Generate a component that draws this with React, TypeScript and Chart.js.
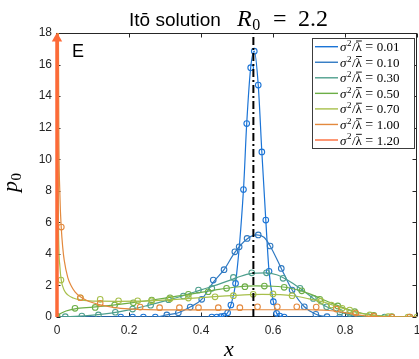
import React, { useEffect, useRef } from 'react';
import { Chart, registerables } from 'chart.js';
Chart.register(...registerables);

// ---- labels / categories ----
const sigmaLabels = ['0.01', '0.10', '0.30', '0.50', '0.70', '1.00', '1.20'];
const xTickStep = 0.2;
const yTickStep = 2;
const xMin = 0, xMax = 1, yMin = 0, yMax = 18;

// ---- sigma^2/lambda = 0.01 ----
const line001X = [0, 0.40, 0.43, 0.45, 0.464, 0.474, 0.483, 0.496, 0.518, 0.527, 0.538, 0.548, 0.559, 0.569, 0.58, 0.589, 0.601, 0.61, 0.619, 0.631, 0.66, 1];
const line001Y = [0, 0, 0, 0.02, 0.05, 0.27, 0.76, 2.13, 8.08, 12.26, 15.8, 16.85, 14.7, 10.46, 6.14, 2.9, 0.97, 0.23, 0.06, 0, 0, 0];
const mark001X = [0.177, 0.21, 0.24, 0.273, 0.43, 0.444, 0.455, 0.464, 0.474, 0.483, 0.496, 0.518, 0.527, 0.538, 0.548, 0.559, 0.569, 0.58, 0.589, 0.601, 0.61, 0.619, 0.631];
const mark001Y = [0, 0, 0, 0, 0, 0, 0.02, 0.05, 0.27, 0.76, 2.13, 8.08, 12.26, 15.8, 16.85, 14.7, 10.46, 6.14, 2.9, 0.97, 0.23, 0.06, 0];

// ---- 0.10 ----
const line010X = [0, 0.27, 0.305, 0.337, 0.37, 0.402, 0.434, 0.464, 0.494, 0.528, 0.555, 0.575, 0.592, 0.623, 0.653, 0.687, 0.719, 0.75, 0.79, 1];
const line010Y = [0, 0, 0.13, 0.27, 0.63, 1.12, 2.2, 3.0, 4.1, 4.95, 5.2, 5.05, 4.5, 3.08, 1.71, 0.65, 0.17, 0.02, 0, 0];
const mark010X = [0.305, 0.337, 0.37, 0.402, 0.434, 0.464, 0.494, 0.506, 0.528, 0.559, 0.592, 0.623, 0.653, 0.687, 0.719, 0.75, 0.785];
const mark010Y = [0.13, 0.27, 0.63, 1.12, 2.34, 3.0, 4.13, 4.45, 4.98, 5.2, 4.5, 3.08, 1.71, 0.65, 0.17, 0.02, 0];

// ---- 0.30 ----
const line030X = [0, 0.05, 0.1, 0.15, 0.2, 0.25, 0.3, 0.35, 0.4, 0.45, 0.5, 0.54, 0.58, 0.61, 0.64, 0.675, 0.712, 0.749, 0.786, 0.82, 0.86, 0.9, 1];
const line030Y = [0, 0.04, 0.12, 0.25, 0.45, 0.72, 1.02, 1.35, 1.72, 2.08, 2.5, 2.76, 2.8, 2.68, 2.35, 1.82, 1.18, 0.65, 0.3, 0.12, 0.03, 0, 0];
const mark030X = [0.023, 0.069, 0.115, 0.162, 0.21, 0.26, 0.31, 0.351, 0.393, 0.43, 0.49, 0.541, 0.582, 0.628, 0.675, 0.712, 0.749, 0.786, 0.813, 0.864, 0.91];
const mark030Y = [0.02, 0.06, 0.13, 0.3, 0.5, 0.75, 1.1, 1.33, 1.71, 1.82, 2.51, 2.8, 2.8, 2.45, 1.82, 1.18, 0.65, 0.3, 0.23, 0.02, 0];

// ---- 0.50 ----
const line050X = [0, 0.01, 0.025, 0.05, 0.1, 0.15, 0.2, 0.25, 0.3, 0.35, 0.4, 0.45, 0.5, 0.55, 0.6, 0.65, 0.7, 0.75, 0.8, 0.85, 0.9, 0.95, 1];
const line050Y = [0.05, 0.22, 0.38, 0.52, 0.62, 0.74, 0.88, 1.03, 1.2, 1.38, 1.56, 1.75, 1.9, 1.97, 1.95, 1.82, 1.48, 1.0, 0.55, 0.22, 0.07, 0.01, 0];
const mark050X = [0, 0.05, 0.106, 0.16, 0.212, 0.263, 0.314, 0.365, 0.42, 0.471, 0.522, 0.576, 0.631, 0.68, 0.73, 0.78, 0.827, 0.88, 0.93, 0.98];
const mark050Y = [0.06, 0.55, 0.61, 0.76, 0.9, 1.07, 1.22, 1.44, 1.6, 1.82, 1.92, 1.96, 1.88, 1.66, 1.12, 0.7, 0.34, 0.1, 0.02, 0];

// ---- 0.70 ----
const line070X = [0.001, 0.004, 0.008, 0.012, 0.02, 0.03, 0.045, 0.065, 0.09, 0.12, 0.17, 0.22, 0.27, 0.32, 0.37, 0.42, 0.47, 0.52, 0.57, 0.62, 0.66, 0.7, 0.735, 0.765, 0.795, 0.83, 0.87, 0.91, 0.95, 1];
const line070Y = [20, 6, 3.2, 2.3, 1.7, 1.4, 1.2, 1.08, 1.02, 1.0, 0.99, 1.0, 1.04, 1.1, 1.18, 1.26, 1.34, 1.4, 1.43, 1.42, 1.33, 1.15, 0.98, 0.76, 0.55, 0.3, 0.12, 0.03, 0.01, 0];
const mark070X = [0.011, 0.065, 0.12, 0.171, 0.224, 0.263, 0.314, 0.365, 0.439, 0.49, 0.545, 0.6, 0.653, 0.733, 0.762, 0.792, 0.813, 0.869, 0.92, 0.975, 1];
const mark070Y = [2.34, 1.22, 1.12, 1.03, 1.03, 1.03, 1.15, 1.2, 1.28, 1.35, 1.44, 1.46, 1.35, 1.0, 0.76, 0.55, 0.44, 0.13, 0.02, 0, 0];

// ---- 1.00 ----
const line100X = [0.002, 0.005, 0.008, 0.012, 0.016, 0.02, 0.03, 0.04, 0.05, 0.065, 0.08, 0.1, 0.13, 0.16, 0.2, 0.25, 0.3, 0.4, 0.5, 0.6, 0.7, 0.74, 0.77, 0.8, 0.83, 0.86, 0.9, 1];
const line100Y = [30, 12, 7.8, 5.6, 4.4, 3.6, 2.5, 1.95, 1.6, 1.28, 1.08, 0.9, 0.72, 0.6, 0.52, 0.47, 0.45, 0.45, 0.46, 0.46, 0.46, 0.44, 0.38, 0.28, 0.15, 0.06, 0.01, 0];
const mark100X = [0.012, 0.065, 0.12, 0.231, 0.285, 0.34, 0.393, 0.448, 0.508, 0.557, 0.612, 0.666, 0.72, 0.776, 0.83, 0.88, 0.93, 0.98];
const mark100Y = [5.7, 1.22, 0.87, 0.63, 0.59, 0.59, 0.59, 0.59, 0.59, 0.65, 0.65, 0.65, 0.63, 0.5, 0.25, 0.05, 0, 0];

// ---- 1.20 (delta mass at x = 0, drawn as arrow) ----
const arrow120X = [0, 0];
const arrow120Y = [0, 17.65];

// ---- equilibrium line x* = 1 - 1/R0 ----
const eqX = [0.5455, 0.5455];
const eqY = [0, 18];

// ---- styles ----
const seriesColors = ['#1b74d6', '#2f79c2', '#4e9f8d', '#6cae46', '#a7bf4b', '#e3893d', '#fd6a38'];
const AXIS = '#262626';

const pts = (xs: number[], ys: number[]) => xs.map((x, i) => ({ x, y: ys[i] }));

const lineSets = [
  [line001X, line001Y], [line010X, line010Y], [line030X, line030Y],
  [line050X, line050Y], [line070X, line070Y], [line100X, line100Y],
];
const markSets = [
  [mark001X, mark001Y], [mark010X, mark010Y], [mark030X, mark030Y],
  [mark050X, mark050Y], [mark070X, mark070Y], [mark100X, mark100Y],
];

const SERIF = '"Liberation Serif", "DejaVu Serif", serif';
const SANS = '"Liberation Sans", Arial, sans-serif';
const fmtTick = (v: number) => String(Math.round(v * 10) / 10);

function drawLegendLabel(ctx: CanvasRenderingContext2D, x: number, y: number, val: string) {
  const s = 13;
  ctx.fillStyle = '#000';
  ctx.textBaseline = 'alphabetic';
  ctx.textAlign = 'left';
  ctx.font = `italic ${s}px ${SERIF}`;
  ctx.fillText('σ', x, y);
  x += ctx.measureText('σ').width + 0.5;
  ctx.font = `${Math.round(s * 0.68)}px ${SERIF}`;
  ctx.fillText('2', x, y - s * 0.4);
  x += ctx.measureText('2').width + 0.5;
  ctx.font = `${s}px ${SERIF}`;
  ctx.fillText('/', x, y);
  x += ctx.measureText('/').width;
  ctx.fillText('λ', x, y);
  const lw = ctx.measureText('λ').width;
  ctx.fillRect(x + 0.5, y - s * 0.82, lw - 0.5, 0.9);
  x += lw + 3.5;
  ctx.font = `${s + 1}px ${SERIF}`;
  ctx.fillText('=', x, y);
  x += ctx.measureText('=').width + 3.5;
  ctx.font = `${s}px ${SERIF}`;
  ctx.fillText(val, x, y);
}

const decorPlugin = {
  id: 'decor',
  beforeDatasetsDraw(chart: any) {
    const { ctx, chartArea: a, scales } = chart;
    ctx.save();
    ctx.strokeStyle = AXIS;
    ctx.lineWidth = 1;
    const L = Math.round(a.left) - 0.5, R = Math.round(a.right) - 0.5;
    const T = Math.round(a.top) + 0.5, B = Math.round(a.bottom) - 0.5;
    ctx.strokeRect(L, T, R - L, B - T);
    const tl = 4;
    ctx.beginPath();
    for (const t of scales.x.ticks) {
      const px = Math.round(scales.x.getPixelForValue(t.value)) + 0.5;
      ctx.moveTo(px, B); ctx.lineTo(px, B - tl);
      ctx.moveTo(px, T); ctx.lineTo(px, T + tl);
    }
    for (const t of scales.y.ticks) {
      const py = Math.round(scales.y.getPixelForValue(t.value)) + 0.5;
      ctx.moveTo(L, py); ctx.lineTo(L + tl, py);
      ctx.moveTo(R, py); ctx.lineTo(R - tl, py);
    }
    ctx.stroke();
    // x tick labels (centred under each tick of the library's x scale)
    ctx.fillStyle = AXIS;
    ctx.font = `12px ${SANS}`;
    ctx.textAlign = 'center';
    ctx.textBaseline = 'alphabetic';
    for (const t of scales.x.ticks) {
      ctx.fillText(fmtTick(t.value), scales.x.getPixelForValue(t.value), a.bottom + 17);
    }
    ctx.restore();
  },
  afterDraw(chart: any) {
    const { ctx } = chart;
    ctx.save();
    // title
    ctx.fillStyle = '#000';
    ctx.textBaseline = 'alphabetic';
    ctx.textAlign = 'left';
    ctx.font = `19px ${SANS}`;
    ctx.fillText('Itō solution', 129, 26);
    ctx.font = `italic 24px ${SERIF}`;
    ctx.fillText('R', 237, 26);
    const rw = ctx.measureText('R').width;
    ctx.font = `16px ${SERIF}`;
    ctx.fillText('0', 237 + rw + 0.5, 30);
    ctx.font = `24px ${SERIF}`;
    ctx.fillText('=', 273, 26);
    ctx.fillText('2.2', 298, 26);

    // panel letter
    ctx.font = `18px ${SANS}`;
    ctx.fillText('E', 72, 57);

    // x label
    ctx.font = `italic 22px ${SERIF}`;
    ctx.textAlign = 'center';
    ctx.fillText('x', 229, 356);

    // y label
    ctx.save();
    ctx.translate(17, 192);
    ctx.rotate(-Math.PI / 2);
    ctx.textAlign = 'left';
    ctx.font = `italic 22px ${SERIF}`;
    ctx.fillText('p', 0, 0);
    const pw = ctx.measureText('p').width;
    ctx.font = `15px ${SERIF}`;
    ctx.fillText('0', pw + 0.5, 4);
    ctx.restore();

    // legend
    const bx = 312.5, by = 38.5, bw = 102, bh = 110;
    ctx.fillStyle = '#fff';
    ctx.fillRect(bx, by, bw, bh);
    ctx.strokeStyle = '#3c3c3c';
    ctx.lineWidth = 1;
    ctx.strokeRect(bx, by, bw, bh);
    sigmaLabels.forEach((lab, i) => {
      const ry = 46.7 + i * 15.55;
      ctx.strokeStyle = seriesColors[i];
      ctx.lineWidth = 1.4;
      ctx.beginPath();
      ctx.moveTo(315, ry);
      ctx.lineTo(338, ry);
      ctx.stroke();
      drawLegendLabel(ctx, 340, ry + 4.5, lab);
    });
    ctx.restore();
  },
};

export default function App() {
  const ref = useRef<HTMLCanvasElement>(null);
  useEffect(() => {
    const datasets: any[] = [];
    datasets.push({
      label: 'eq',
      data: pts(eqX, eqY),
      borderColor: '#000',
      borderWidth: 2,
      borderDash: [8, 3, 2, 3],
      pointRadius: 0,
      showLine: true,
      order: 0,
    });
    datasets.push({
      label: sigmaLabels[6],
      data: pts(arrow120X, arrow120Y),
      borderColor: seriesColors[6],
      backgroundColor: seriesColors[6],
      borderWidth: 3.5,
      pointStyle: 'triangle',
      pointRadius: [0, 6],
      pointBorderWidth: 0,
      showLine: true,
      clip: false,
      order: 1,
    });
    lineSets.forEach(([xs, ys], i) => {
      datasets.push({
        label: sigmaLabels[i],
        data: pts(xs, ys),
        borderColor: seriesColors[i],
        borderWidth: 1.2,
        pointRadius: 0,
        showLine: true,
        cubicInterpolationMode: 'monotone',
        order: 7 - i,
      });
      const [mx, my] = markSets[i];
      datasets.push({
        label: sigmaLabels[i] + ' sim',
        data: pts(mx, my),
        borderColor: seriesColors[i],
        backgroundColor: 'rgba(0,0,0,0)',
        showLine: false,
        pointRadius: 2.8,
        pointBorderWidth: 1.1,
        pointStyle: 'circle',
        order: 7 - i,
      });
    });

    const chart = new Chart(ref.current!, {
      type: 'scatter',
      data: { datasets },
      plugins: [decorPlugin],
      options: {
        animation: false,
        responsive: false,
        maintainAspectRatio: false,
        devicePixelRatio: 1,
        layout: { autoPadding: false, padding: { left: 0, right: 2, top: 33, bottom: 0 } },
        plugins: {
          legend: { display: false },
          tooltip: { enabled: false },
          title: { display: false },
        },
        elements: { line: { tension: 0 } },
        scales: {
          x: {
            type: 'linear',
            min: xMin,
            max: xMax,
            ticks: {
              stepSize: xTickStep,
              display: false,
              callback: (v: any) => fmtTick(Number(v)),
            },
            grid: { display: false, drawTicks: false },
            border: { display: false },
            afterFit: (s: any) => { s.height = 42; s.paddingLeft = 0; s.paddingRight = 0; },
          },
          y: {
            type: 'linear',
            min: yMin,
            max: yMax,
            ticks: {
              stepSize: yTickStep,
              padding: 5,
              color: AXIS,
              font: { family: SANS, size: 12 },
            },
            grid: { display: false, drawTicks: false },
            border: { display: false },
            afterFit: (s: any) => { s.width = 57; s.paddingTop = 0; s.paddingBottom = 0; },
          },
        },
      } as any,
    });
    return () => chart.destroy();
  }, []);
  return (
    <div style={{ position: 'fixed', left: 0, top: 0, width: 419, height: 359, background: '#fff' }}>
      <canvas ref={ref} width={419} height={359} style={{ display: 'block', width: 419, height: 359 }} />
    </div>
  );
}
